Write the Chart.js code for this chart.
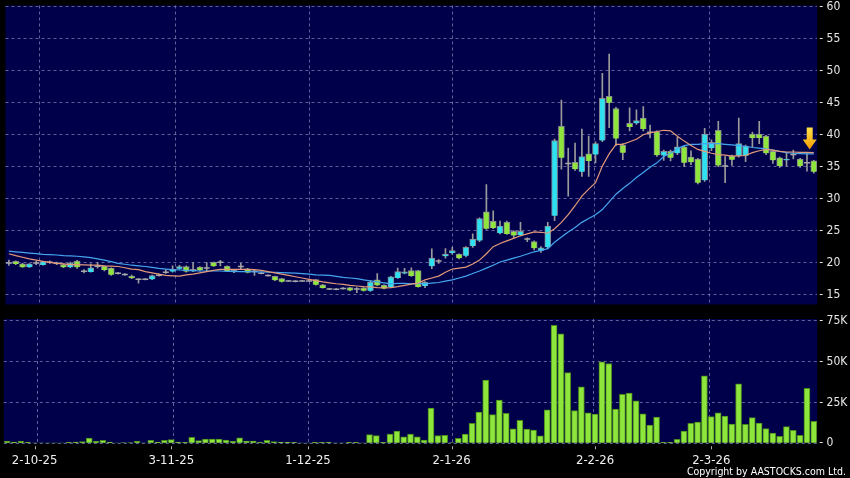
<!DOCTYPE html>
<html>
<head>
<meta charset="utf-8">
<script src="https://cdn.jsdelivr.net/npm/chart.js@4.4.1/dist/chart.umd.min.js"></script>
<style>
  html, body { margin: 0; padding: 0; background: #000; }
  body { width: 850px; height: 478px; position: relative; overflow: hidden; }
  #priceChart { position: absolute; left: 0; top: 0; }
  #volChart { position: absolute; left: 0; top: 310px; }
  #copy { position: absolute; right: 4px; top: 465px; color: #fff; white-space: nowrap;
          font: 10.5px "DejaVu Sans Condensed", "DejaVu Sans", sans-serif; }
</style>
</head>
<body>
<canvas id="priceChart" width="850" height="310"></canvas>
<canvas id="volChart" width="850" height="168"></canvas>
<div id="copy">Copyright by AASTOCKS.com Ltd.</div>
<script>
// x axis: one slot per trading day, labels on the first day of each month
const tickIdx = [4, 24, 44, 65, 86, 103];
const tickText = ["2-10-25", "3-11-25", "1-12-25", "2-1-26", "2-2-26", "2-3-26"];
const gridIdx = [4.4, 24.3, 44.06, 65.03, 85.75, 102.6];
const priceTicks = [15, 20, 25, 30, 35, 40, 45, 50, 55, 60];
const volTicks = [0, 25000, 50000, 75000];

// daily candles
const openP = [
  19.95, 20.2, 19.8, 19.3, 19.95, 19.65, 20.05, 19.9, 19.7, 19.3,
  20.25, 18.65, 18.55, 19.45, 19.45, 19.15, 18.35, 18.15, 17.9, 17.4,
  17.4, 17.4, 18.05, 18.5, 18.6, 19.05, 19.4, 18.65, 19.3, 19.15,
  20.05, 20.05, 19.45, 18.5, 19.4, 19.05, 18.65, 18.35, 18.0, 17.85,
  17.5, 17.15, 17.1, 17.15, 17.15, 17.35, 16.55, 15.9, 15.85, 15.95,
  16.1, 15.9, 16.05, 15.6, 17.3, 16.5, 16.2, 17.6, 18.3, 18.75,
  18.75, 16.35, 19.45, 20.25, 21.0, 21.5, 21.35, 21.1, 22.6, 23.45,
  27.95, 26.45, 24.6, 26.3, 24.9, 24.3, 23.7, 23.3, 21.85, 22.4,
  27.35, 41.3, 35.5, 35.7, 34.2, 37.0, 36.9, 39.1, 46.0, 44.1,
  38.4, 41.8, 41.8, 42.6, 40.4, 40.5, 36.75, 37.4, 37.1, 38.1,
  36.5, 36.2, 32.9, 37.9, 40.7, 35.1, 36.7, 36.7, 36.7, 40.1,
  40.1, 39.8, 37.4, 36.4, 36.0, 36.9, 36.2, 35.6, 35.9
];
const highP = [
  20.4, 20.3, 19.9, 19.85, 20.2, 20.25, 20.3, 20.1, 19.8, 20.1,
  20.35, 18.9, 19.8, 20.0, 19.5, 19.2, 18.5, 18.3, 18.05, 17.5,
  17.5, 18.05, 18.2, 18.9, 19.5, 19.6, 19.5, 20.0, 19.4, 20.0,
  20.1, 20.35, 19.5, 18.85, 19.9, 19.1, 18.8, 18.45, 18.1, 17.9,
  17.55, 17.2, 17.2, 17.2, 17.2, 17.4, 16.6, 16.0, 15.95, 16.1,
  16.15, 16.1, 16.1, 17.2, 18.3, 16.55, 17.85, 19.15, 19.1, 19.2,
  18.8, 17.05, 22.15, 20.5, 22.2, 22.4, 21.4, 22.5, 24.5, 27.0,
  32.2, 28.1, 26.5, 26.5, 25.0, 26.3, 23.9, 23.4, 22.5, 26.3,
  39.3, 45.4, 37.9, 38.7, 40.9, 39.8, 38.9, 49.6, 52.6, 44.3,
  38.6, 44.2, 43.9, 44.4, 41.5, 40.6, 37.6, 37.6, 39.6, 38.2,
  37.5, 36.3, 41.0, 39.2, 42.1, 36.6, 36.8, 42.6, 38.4, 40.4,
  42.1, 39.9, 37.5, 36.5, 37.2, 37.6, 36.3, 37.2, 36.0
];
const lowP = [
  19.55, 19.7, 19.25, 19.25, 19.7, 19.6, 19.9, 19.7, 19.2, 19.2,
  19.1, 18.4, 18.5, 19.15, 18.7, 18.0, 18.2, 18.0, 17.5, 16.8,
  17.3, 17.35, 17.9, 18.3, 18.5, 19.0, 18.5, 18.6, 18.7, 18.6,
  19.4, 19.5, 18.65, 18.45, 18.95, 18.4, 18.0, 18.25, 17.9, 17.2,
  16.95, 17.1, 17.0, 17.1, 17.1, 16.5, 16.0, 15.8, 15.75, 15.85,
  15.6, 15.3, 15.55, 15.5, 16.4, 15.9, 16.1, 17.55, 18.25, 17.85,
  16.15, 16.1, 19.05, 19.9, 20.7, 21.3, 20.6, 20.9, 22.4, 23.3,
  25.2, 25.3, 24.5, 24.4, 23.9, 24.2, 23.3, 22.0, 21.6, 22.2,
  26.55, 34.6, 30.4, 34.4, 33.5, 33.5, 35.6, 38.9, 41.1, 38.3,
  36.1, 40.6, 41.6, 40.6, 39.5, 36.6, 36.0, 35.9, 36.9, 35.0,
  35.3, 32.3, 32.7, 37.5, 35.0, 32.5, 35.2, 36.5, 35.8, 38.0,
  38.6, 36.9, 35.5, 34.9, 35.1, 36.2, 34.9, 34.3, 34.0
];
const closeP = [
  19.95, 19.8, 19.3, 19.8, 19.95, 20.15, 20.05, 19.9, 19.3, 19.95,
  19.3, 18.65, 19.2, 19.45, 18.85, 18.1, 18.35, 18.15, 17.6, 17.4,
  17.4, 18.0, 18.05, 18.5, 18.95, 19.4, 18.6, 18.95, 18.85, 19.15,
  19.45, 20.05, 18.7, 18.8, 19.4, 18.45, 18.65, 18.35, 18.0, 17.25,
  17.0, 17.15, 17.1, 17.15, 17.15, 16.55, 16.05, 15.9, 15.85, 15.95,
  15.65, 15.9, 15.6, 16.95, 16.45, 15.95, 17.8, 18.6, 18.55, 17.9,
  16.2, 16.95, 20.7, 20.25, 21.35, 21.9, 20.7, 22.4, 23.7, 26.9,
  25.3, 25.4, 25.7, 24.5, 24.25, 24.9, 23.7, 22.25, 22.3, 25.7,
  39.1, 36.4, 35.5, 34.6, 36.6, 35.9, 38.6, 45.7, 45.0, 39.4,
  37.2, 41.2, 42.2, 40.9, 40.4, 36.8, 37.4, 36.4, 38.1, 35.6,
  35.7, 32.5, 40.1, 38.8, 35.2, 35.1, 36.1, 38.6, 38.2, 39.5,
  39.5, 37.1, 36.0, 35.1, 36.2, 36.9, 35.1, 35.6, 34.2
];

// moving averages as drawn on the chart
const maFast = [
  21.4, 21.1, 20.85, 20.6, 20.4, 20.2, 20.05, 19.9, 19.8, 19.7,
  19.7, 19.65, 19.6, 19.6, 19.5, 19.45, 19.4, 19.2, 19.0, 18.9,
  18.6, 18.4, 18.2, 18.0, 17.95, 17.9, 18.1, 18.2, 18.4, 18.6,
  18.8, 18.95, 18.95, 18.95, 18.95, 18.95, 18.9, 18.8, 18.6, 18.4,
  18.2, 18.0, 17.8, 17.6, 17.4, 17.2, 17.0, 16.85, 16.7, 16.6,
  16.45, 16.35, 16.25, 16.2, 16.1, 16.05, 16.1, 16.25, 16.45, 16.65,
  16.8, 17.3, 17.6, 17.9, 18.5, 19.0, 19.15, 19.3, 19.8, 20.4,
  21.4, 22.5, 23.0, 23.4, 23.8, 24.2, 24.5, 24.8, 24.75, 24.6,
  25.3, 26.3, 27.5, 28.9, 30.4, 31.5, 32.5, 35.1, 37.0, 38.5,
  38.5, 38.9, 39.3, 40.0, 40.3, 40.5, 40.7, 40.6, 39.75, 39.0,
  38.3, 37.7, 37.4, 37.1, 36.9, 36.8, 36.65, 36.7, 36.75, 37.2,
  37.5, 37.7, 37.6, 37.4, 37.3, 37.3, 37.25, 37.25, 37.2
];
const maSlow = [
  21.8, 21.7, 21.6, 21.5, 21.4, 21.3, 21.25, 21.2, 21.1, 21.05,
  21.0, 20.9, 20.8, 20.6, 20.4, 20.15, 19.9, 19.75, 19.6, 19.5,
  19.4, 19.25, 19.1, 19.0, 18.9, 18.85, 18.8, 18.75, 18.7, 18.7,
  18.7, 18.7, 18.65, 18.65, 18.6, 18.6, 18.55, 18.55, 18.5, 18.5,
  18.45, 18.4, 18.35, 18.3, 18.2, 18.1, 18.05, 18.0, 17.85, 17.7,
  17.6, 17.5, 17.3, 17.15, 17.0, 16.85, 16.7, 16.75, 16.75, 16.7,
  16.75, 16.7, 16.8, 16.9, 17.1, 17.3, 17.6, 17.9, 18.3, 18.7,
  19.15, 19.6, 20.1, 20.4, 20.7, 21.0, 21.35, 21.7, 21.9, 22.2,
  23.2, 24.0, 24.8, 25.5, 26.3, 26.9, 27.5, 28.3, 29.5, 30.7,
  31.6, 32.4, 33.3, 34.1, 34.9, 35.6, 36.6, 37.1, 37.8, 38.3,
  38.5, 38.5, 38.6, 38.6, 38.6, 38.5, 38.4, 38.3, 38.2, 38.0,
  37.9, 37.8, 37.6, 37.4, 37.2, 37.1, 37.05, 37.0, 37.0
];

// daily volume (shares)
const volumes = [
  1200, 800, 1200, 600, 300, 200, 100, 100, 100, 600,
  800, 1000, 3200, 1200, 1800, 800, 200, 400, 400, 1200,
  200, 1800, 800, 1800, 2200, 800, 600, 3600, 1600, 2600,
  2600, 2600, 2000, 1200, 3400, 1400, 1400, 600, 1800, 1000,
  800, 800, 600, 100, 100, 600, 600, 600, 300, 100,
  600, 600, 100, 5300, 4700, 600, 5700, 7500, 4000, 5700,
  4000, 2000, 21500, 4700, 4900, 400, 3000, 5700, 12200, 19100,
  38600, 17500, 26400, 18300, 8900, 14000, 8700, 8100, 4500, 20500,
  72200, 67000, 43300, 20000, 34500, 18700, 17900, 49800, 48800, 21000,
  30000, 30700, 26000, 18000, 11200, 16000, 600, 600, 2400, 7500,
  12200, 13000, 41300, 16300, 18700, 16700, 11800, 36400, 11600, 15700,
  12400, 9000, 6300, 4300, 10200, 7900, 4900, 33700, 13400
];

// marker arrow over the latest sessions
const arrowAt = 117.4;
const arrowPrice = 37.7;

const navy = "#00004a";
const gridCol = "rgba(120,120,175,0.8)";
const upCol = "#2fe0f0";
const downCol = "#8ee63c";
const fontFam = '"DejaVu Sans Condensed", "DejaVu Sans", sans-serif';

function fixY(s) {
  s.width = 32.8;
  s.paddingTop = 0;
  s.paddingBottom = 0;
}

const panelPlugin = {
  id: "panel",
  beforeDraw(chart) {
    const { ctx, chartArea: a } = chart;
    ctx.save();
    ctx.fillStyle = navy;
    ctx.fillRect(a.left, a.top, a.right - a.left, a.bottom - a.top);
    ctx.restore();
  },
  beforeDatasetsDraw(chart) {
    const { ctx, chartArea: a, scales } = chart;
    ctx.save();
    ctx.strokeStyle = gridCol;
    ctx.lineWidth = 1;
    ctx.setLineDash([3, 3]);
    gridIdx.forEach(function (v) {
      const x = Math.round(scales.x.getPixelForValue(v)) + 0.5;
      ctx.beginPath();
      ctx.moveTo(x, a.top);
      ctx.lineTo(x, a.bottom);
      ctx.stroke();
    });
    ctx.restore();
  },
};

const arrowPlugin = {
  id: "arrow",
  afterDatasetsDraw(chart) {
    const { ctx, scales } = chart;
    const cx = scales.x.getPixelForValue(arrowAt);
    const tip = scales.y.getPixelForValue(arrowPrice);
    const g = ctx.createLinearGradient(0, tip - 22, 0, tip);
    g.addColorStop(0, "#ffe44a");
    g.addColorStop(1, "#f59a00");
    ctx.save();
    ctx.fillStyle = g;
    ctx.beginPath();
    ctx.moveTo(cx - 3, tip - 22);
    ctx.lineTo(cx + 3, tip - 22);
    ctx.lineTo(cx + 3, tip - 10);
    ctx.lineTo(cx + 7, tip - 10);
    ctx.lineTo(cx, tip);
    ctx.lineTo(cx - 7, tip - 10);
    ctx.lineTo(cx - 3, tip - 10);
    ctx.closePath();
    ctx.fill();
    ctx.restore();
  },
};

const tickMarkPlugin = {
  id: "tickMarks",
  afterDraw(chart) {
    const { ctx, chartArea: a, scales } = chart;
    ctx.save();
    ctx.strokeStyle = "#b0b0b0";
    ctx.lineWidth = 1;
    tickIdx.forEach(function (v) {
      const x = Math.round(scales.x.getPixelForValue(v)) + 0.5;
      ctx.beginPath();
      ctx.moveTo(x, a.bottom + 3);
      ctx.lineTo(x, a.bottom + 6);
      ctx.stroke();
    });
    ctx.restore();
  },
};

const bodies = openP.map((o, i) => ({ x: i, y: [o, closeP[i]] }));
const bodyColor = openP.map((o, i) => (closeP[i] > o ? upCol : downCol));
const wicks = lowP.map((l, i) => ({ x: i, y: [l, highP[i]] }));
const doji = openP
  .map((o, i) => ({ x: i, y: o }))
  .filter((p, i) => openP[i] === closeP[i]);

new Chart(document.getElementById("priceChart"), {
  type: "bar",
  data: {
    datasets: [
      {
        type: "line",
        data: maFast.map((v, i) => ({ x: i, y: v })),
        borderColor: "#e39a78",
        borderWidth: 1.2,
        pointRadius: 0,
        order: 0,
      },
      {
        type: "line",
        data: maSlow.map((v, i) => ({ x: i, y: v })),
        borderColor: "#45a6f0",
        borderWidth: 1.2,
        pointRadius: 0,
        order: 0,
      },
      {
        type: "line",
        data: doji,
        showLine: false,
        pointStyle: "line",
        pointRadius: 3,
        pointBorderColor: "#a8a8a8",
        pointBorderWidth: 1.5,
        order: 1,
      },
      {
        data: bodies,
        backgroundColor: bodyColor,
        borderColor: "rgba(150,150,150,0.9)",
        borderWidth: 1,
        barThickness: 6,
        grouped: false,
        order: 2,
      },
      {
        data: wicks,
        backgroundColor: "#9a9a9a",
        barThickness: 1,
        grouped: false,
        order: 3,
      },
    ],
  },
  options: {
    responsive: false,
    animation: false,
    devicePixelRatio: 1,
    layout: { padding: { left: 3.8, top: 5, bottom: 4, right: 0 } },
    plugins: { legend: { display: false }, tooltip: { enabled: false } },
    scales: {
      x: { type: "linear", min: -0.5, max: 118.5, offset: false, display: false },
      y: {
        position: "right",
        min: 13.46,
        max: 60.2,
        afterBuildTicks: (s) => { s.ticks = priceTicks.map((v) => ({ value: v })); },
        afterFit: fixY,
        grid: { color: gridCol, drawTicks: false },
        border: { display: false, dash: [3, 3] },
        ticks: {
          color: "#e6e6e6",
          font: { family: fontFam, size: 12 },
          padding: 2,
          callback: (v) => "- " + v,
        },
      },
    },
  },
  plugins: [panelPlugin, arrowPlugin],
});

new Chart(document.getElementById("volChart"), {
  type: "bar",
  data: {
    datasets: [
      {
        data: volumes.map((v, i) => ({ x: i, y: v })),
        backgroundColor: downCol,
        borderColor: "#4a8a1c",
        borderWidth: 1,
        barThickness: 6,
      },
    ],
  },
  options: {
    responsive: false,
    animation: false,
    devicePixelRatio: 1,
    layout: { padding: { left: 3.8, top: 9, bottom: 0, right: 0 } },
    plugins: { legend: { display: false }, tooltip: { enabled: false } },
    scales: {
      x: {
        type: "linear",
        min: -0.5,
        max: 118.5,
        offset: false,
        afterBuildTicks: (s) => { s.ticks = tickIdx.map((v) => ({ value: v })); },
        afterFit: (s) => { s.height = 34.7; s.paddingLeft = 0; s.paddingRight = 0; },
        grid: { display: false, drawTicks: false },
        border: { display: false },
        ticks: {
          color: "#f0f0f0",
          font: { family: fontFam, size: 13 },
          padding: 9.5,
          maxRotation: 0,
          autoSkip: false,
          callback: (v) => tickText[tickIdx.indexOf(v)],
        },
      },
      y: {
        position: "right",
        min: 0,
        max: 76040,
        afterBuildTicks: (s) => { s.ticks = volTicks.map((v) => ({ value: v })); },
        afterFit: fixY,
        grid: { color: gridCol, drawTicks: false },
        border: { display: false, dash: [3, 3] },
        ticks: {
          color: "#e6e6e6",
          font: { family: fontFam, size: 12 },
          padding: 2,
          callback: (v) => "- " + (v === 0 ? "0" : v / 1000 + "K"),
        },
      },
    },
  },
  plugins: [panelPlugin, tickMarkPlugin],
});
</script>
</body>
</html>
